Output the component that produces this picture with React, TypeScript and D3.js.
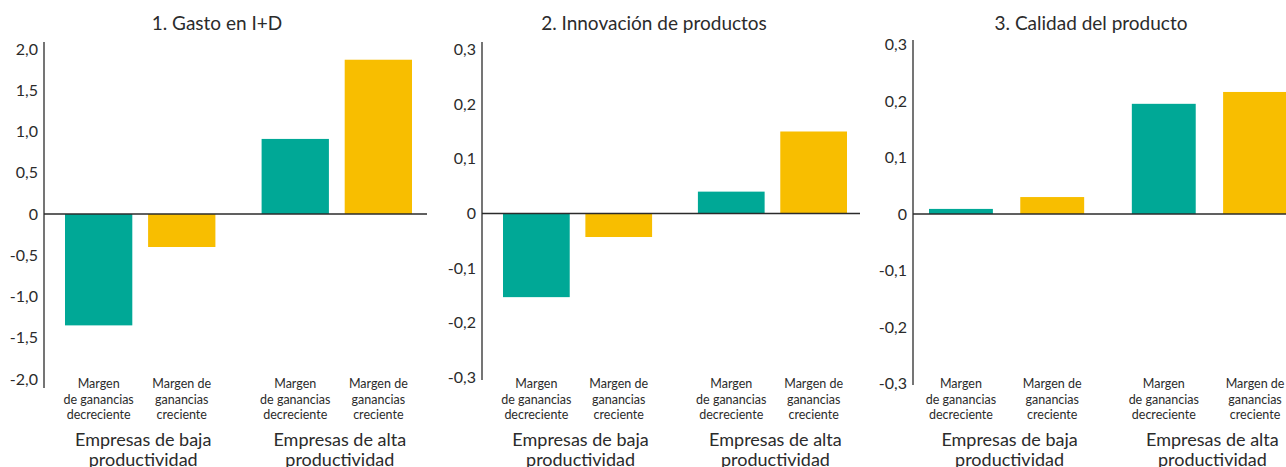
import React from "react";
import * as d3 from "d3";

// Series values per panel: [baja-decreciente, baja-creciente, alta-decreciente, alta-creciente]
const gastoID = [-1.35, -0.4, 0.91, 1.87];
const innovacion = [-0.153, -0.043, 0.04, 0.15];
const calidad = [0.009, 0.03, 0.195, 0.216];

const titles = ["1. Gasto en I+D", "2. Innovación de productos", "3. Calidad del producto"];
const groupKeys = ["baja", "alta"];
const groupLabels = [
  ["Empresas de baja", "productividad"],
  ["Empresas de alta", "productividad"],
];
const seriesKeys = ["decreciente", "creciente"];
const seriesLabels = [
  ["Margen", "de ganancias", "decreciente"],
  ["Margen de", "ganancias", "creciente"],
];
const ticksGasto = [-2, -1.5, -1, -0.5, 0, 0.5, 1, 1.5, 2];
const ticksSmall = [-0.3, -0.2, -0.1, 0, 0.1, 0.2, 0.3];

const COLORS = ["#00A896", "#F8BE00"];
const INK = "#2b2b2b";
const FONT = "'Source Sans Pro', Lato, 'Noto Sans', sans-serif";

type PanelSpec = {
  values: number[];
  ticks: number[];
  domain: [number, number];
  yRange: [number, number];
  axisX: number;
  axisTop: number;
  axisBottom: number;
  lineEnd: number;
  barsStart: number;
  barsEnd: number;
  innerPad: number;
  titleX: number;
};

const panels: PanelSpec[] = [
  {
    values: gastoID, ticks: ticksGasto, domain: [-2, 2], yRange: [379, 49],
    axisX: 44, axisTop: 42, axisBottom: 388, lineEnd: 427,
    barsStart: 65, barsEnd: 412, innerPad: 0.19, titleX: 217,
  },
  {
    values: innovacion, ticks: ticksSmall, domain: [-0.3, 0.3], yRange: [377.5, 49.5],
    axisX: 482, axisTop: 42, axisBottom: 380, lineEnd: 860,
    barsStart: 503, barsEnd: 847, innerPad: 0.19, titleX: 654,
  },
  {
    values: calidad, ticks: ticksSmall, domain: [-0.3, 0.3], yRange: [383.5, 44.5],
    axisX: 913, axisTop: 40, axisBottom: 385, lineEnd: 1286,
    barsStart: 929, barsEnd: 1287, innerPad: 0.3, titleX: 1091,
  },
];

const fmt = (v: number) => {
  if (v === 0) return "0";
  const s = Math.abs(v).toFixed(1).replace(".", ",");
  return v < 0 ? "-" + s : s;
};

function Panel({ spec, title }: { spec: PanelSpec; title: string }) {
  const y = d3.scaleLinear().domain(spec.domain).range(spec.yRange);
  const groupScale = d3
    .scaleBand<string>()
    .domain(groupKeys)
    .range([spec.barsStart, spec.barsEnd])
    .paddingInner(0.235)
    .paddingOuter(0);
  const inner = d3
    .scaleBand<string>()
    .domain(seriesKeys)
    .range([0, groupScale.bandwidth()])
    .paddingInner(spec.innerPad)
    .paddingOuter(0);
  const y0 = y(0);

  return (
    <g>
      <text x={spec.titleX} y={30} textAnchor="middle" fontSize={19} fill={INK}>
        {title}
      </text>

      {spec.values.map((v, i) => {
        const g = groupKeys[Math.floor(i / 2)];
        const s = seriesKeys[i % 2];
        const x = (groupScale(g) ?? 0) + (inner(s) ?? 0);
        const top = Math.min(y(v), y0);
        const h = Math.abs(y(v) - y0);
        return (
          <rect key={i} x={x} y={top} width={inner.bandwidth()} height={h} fill={COLORS[i % 2]} />
        );
      })}

      {/* vertical value axis */}
      <line
        x1={spec.axisX}
        x2={spec.axisX}
        y1={spec.axisTop}
        y2={spec.axisBottom}
        stroke={INK}
        strokeWidth={1.3}
      />
      {/* zero baseline */}
      <line x1={spec.axisX} x2={spec.lineEnd} y1={y0} y2={y0} stroke={INK} strokeWidth={1.5} />

      {spec.ticks.map((t) => (
        <text
          key={t}
          x={spec.axisX - 6}
          y={y(t)}
          dy="0.35em"
          textAnchor="end"
          fontSize={16}
          fill={INK}
        >
          {fmt(t)}
        </text>
      ))}

      {groupKeys.map((g) =>
        seriesKeys.map((s, si) => {
          const cx = (groupScale(g) ?? 0) + (inner(s) ?? 0) + inner.bandwidth() / 2;
          return (
            <text key={g + s} x={cx} y={388} textAnchor="middle" fontSize={12.5} fill={INK}>
              {seriesLabels[si].map((line, li) => (
                <tspan key={li} x={cx} dy={li === 0 ? 0 : 15.5}>
                  {line}
                </tspan>
              ))}
            </text>
          );
        })
      )}

      {groupKeys.map((g, gi) => {
        const cx = (groupScale(g) ?? 0) + groupScale.bandwidth() / 2 + 3;
        return (
          <text key={g} x={cx} y={446} textAnchor="middle" fontSize={18} fill={INK}>
            {groupLabels[gi].map((line, li) => (
              <tspan key={li} x={cx} dy={li === 0 ? 0 : 20}>
                {line}
              </tspan>
            ))}
          </text>
        );
      })}
    </g>
  );
}

export default function App() {
  return (
    <svg
      width={1286}
      height={467}
      style={{ position: "absolute", left: 0, top: 0, background: "#fff" }}
      fontFamily={FONT}
    >
      <rect width={1286} height={467} fill="#fff" />
      {panels.map((p, i) => (
        <Panel key={i} spec={p} title={titles[i]} />
      ))}
    </svg>
  );
}
